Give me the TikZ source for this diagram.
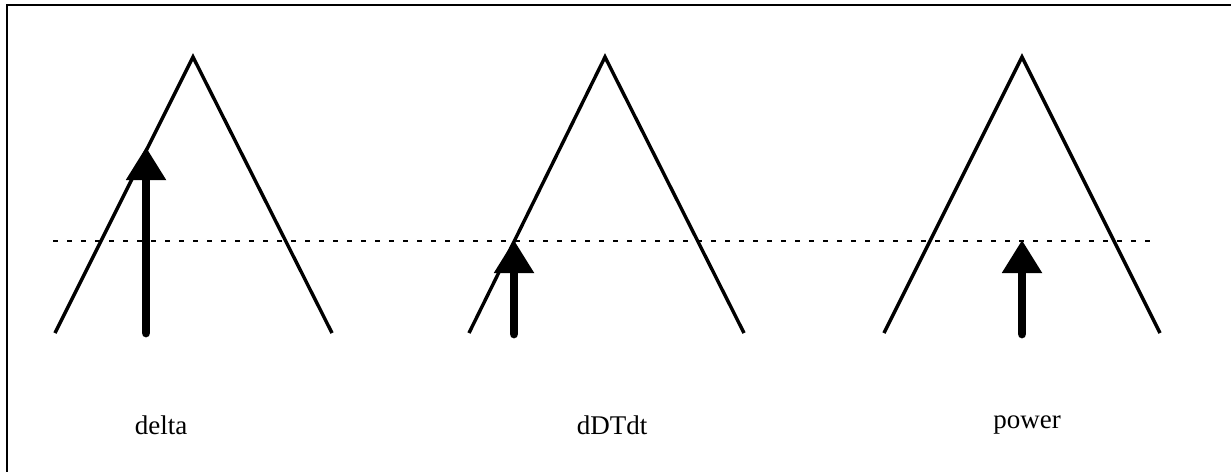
\documentclass[tikz,border=0pt]{standalone}
\usepackage{fontspec}
\setmainfont{Liberation Serif}
\usepackage{tikz}
\usetikzlibrary{arrows.meta}

\begin{document}
\begin{tikzpicture}[x=0.5pt, y=-0.5pt,
    side/.style={line width=1.7pt, line join=miter},
    guide/.style={line width=0.9pt, dash pattern=on 2.5pt off 4.5pt},
    shaft/.style={line width=4.4pt, line cap=round,
                  -{Triangle[length=16.5pt, width=19pt]}},
    lbl/.style={font=\fontsize{13.5}{16}\selectfont, inner sep=0pt}]

    \useasboundingbox (0,0) rectangle (1231,472);
    \fill[white] (0,0) rectangle (1231,472);

    % frame
    \draw[line width=1.3pt] (1231,5) -- (7,5) -- (7,472);

    % peaks
    \coordinate (l1) at (55,333);  \coordinate (p1) at (193,57);  \coordinate (r1) at (332,333);
    \coordinate (l2) at (469,333); \coordinate (p2) at (605,57);  \coordinate (r2) at (744,333);
    \coordinate (l3) at (884,333); \coordinate (p3) at (1022,57); \coordinate (r3) at (1160,333);

    \draw[side] (l1) -- (p1) -- (r1);
    \draw[side] (l2) -- (p2) -- (r2);
    \draw[side] (l3) -- (p3) -- (r3);

    % threshold
    \coordinate (gs) at (53,241);
    \coordinate (ge) at (1158,241);
    \draw[guide] (gs) -- (ge);

    % arrows
    \coordinate (a1) at (146,333);  \coordinate (t1) at (146,147);
    \coordinate (a2) at (514,334);  \coordinate (t2) at (514,240);
    \coordinate (a3) at (1022,334); \coordinate (t3) at (1022,240);

    \draw[shaft] (a1) -- (t1);
    \draw[shaft] (a2) -- (t2);
    \draw[shaft] (a3) -- (t3);

    \node[lbl] (delta) at (161,425) {delta};
    \node[lbl] (ddtdt) at (612,425) {dDTdt};
    \node[lbl] (power) at (1027,425) {power};

\end{tikzpicture}
\end{document}
